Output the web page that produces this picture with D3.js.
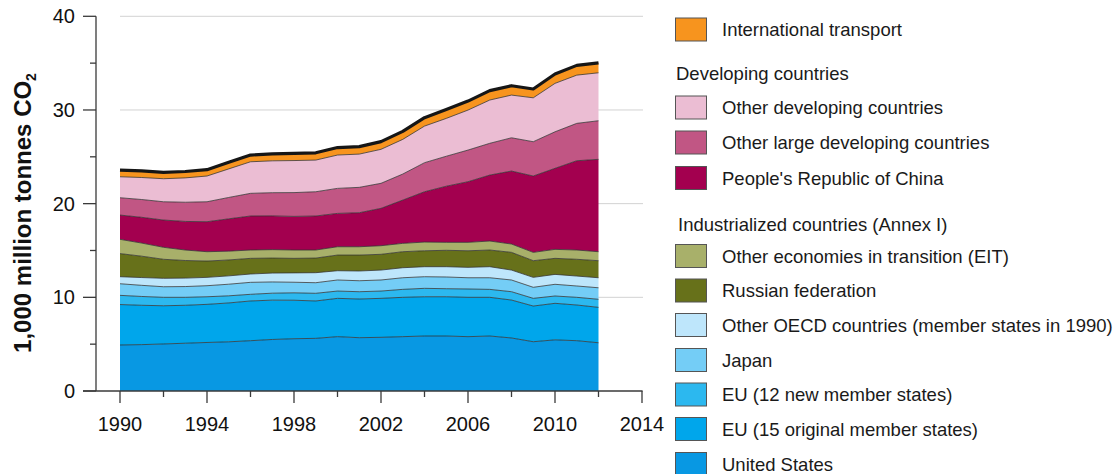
<!DOCTYPE html>
<html><head><meta charset="utf-8">
<script src="https://cdn.jsdelivr.net/npm/d3@7"></script>
<style>body{margin:0;background:#fff}svg{display:block;font-family:"Liberation Sans",Arial,sans-serif}</style>
</head><body>
<svg id="c" width="1117" height="474"></svg>
<script>
const years = [1990,1991,1992,1993,1994,1995,1996,1997,1998,1999,2000,2001,2002,2003,2004,2005,2006,2007,2008,2009,2010,2011,2012];
const unitedStates = [4.91,4.95,5.02,5.10,5.18,5.25,5.37,5.50,5.58,5.62,5.80,5.69,5.73,5.80,5.87,5.87,5.80,5.87,5.66,5.26,5.46,5.37,5.15];
const eu15 = [4.32,4.20,4.08,4.05,4.07,4.15,4.24,4.20,4.11,3.99,4.09,4.13,4.16,4.20,4.19,4.19,4.20,4.13,4.05,3.81,3.90,3.81,3.78];
const eu12 = [0.98,0.94,0.90,0.85,0.81,0.76,0.71,0.74,0.79,0.82,0.78,0.78,0.78,0.85,0.90,0.86,0.89,0.85,0.89,0.82,0.78,0.82,0.86];
const japan = [1.24,1.19,1.13,1.15,1.18,1.24,1.28,1.20,1.13,1.13,1.18,1.17,1.18,1.24,1.24,1.25,1.20,1.24,1.25,1.18,1.25,1.21,1.23];
const otherOECD = [0.75,0.83,0.90,0.90,0.89,0.89,0.89,0.95,1.00,1.07,0.99,1.04,1.06,1.07,1.07,1.10,1.11,1.18,1.06,1.06,1.06,1.06,1.07];
const russia = [2.47,2.28,2.03,1.88,1.74,1.70,1.67,1.60,1.55,1.56,1.67,1.70,1.68,1.71,1.70,1.75,1.77,1.78,1.89,1.78,1.71,1.79,1.82];
const otherEIT = [1.52,1.40,1.28,1.12,1.00,0.94,0.89,0.90,0.89,0.86,0.89,0.89,0.92,0.89,0.93,0.85,0.90,0.96,0.89,0.89,0.96,0.99,0.96];
const china = [2.59,2.75,2.91,3.05,3.20,3.45,3.63,3.60,3.59,3.63,3.56,3.63,3.99,4.62,5.37,5.99,6.47,7.04,7.79,8.15,8.65,9.53,9.86];
const otherLarge = [1.85,1.90,1.95,2.05,2.13,2.28,2.42,2.48,2.54,2.59,2.67,2.71,2.67,2.78,3.10,3.20,3.38,3.39,3.55,3.66,3.90,3.99,4.12];
const otherDeveloping = [2.24,2.35,2.46,2.60,2.75,3.05,3.37,3.40,3.42,3.38,3.56,3.55,3.63,3.70,3.91,4.04,4.27,4.62,4.56,4.69,5.17,5.15,5.12];
const intlTransport = [0.70,0.70,0.68,0.68,0.68,0.70,0.72,0.74,0.76,0.78,0.80,0.80,0.82,0.86,0.90,0.94,0.96,1.00,1.00,0.94,1.00,1.04,1.06];

const seriesKeys = ["us","eu15","eu12","japan","oecd","russia","eit","china","large","otherdev","intl"];
const seriesValues = [unitedStates,eu15,eu12,japan,otherOECD,russia,otherEIT,china,otherLarge,otherDeveloping,intlTransport];
const seriesColors = ["#0898e3","#00a6eb","#2cb8ef","#74cdf6","#bee6fb","#67711a","#a8b06a","#a3004f","#c15684","#ebbdd3","#f7941e"];

const xTicks = [1990,1992,1994,1996,1998,2000,2002,2004,2006,2008,2010,2012,2014];
const xLabels = [1990,1994,1998,2002,2006,2010,2014];
const yTicks = [0,5,10,15,20,25,30,35,40];
const yLabels = [0,10,20,30,40];

const legendItems = [
  {type:"swatch", key:"intl", label:"International transport"},
  {type:"head", label:"Developing countries"},
  {type:"swatch", key:"otherdev", label:"Other developing countries"},
  {type:"swatch", key:"large", label:"Other large developing countries"},
  {type:"swatch", key:"china", label:"People's Republic of China"},
  {type:"head", label:"Industrialized countries (Annex I)"},
  {type:"swatch", key:"eit", label:"Other economies in transition (EIT)"},
  {type:"swatch", key:"russia", label:"Russian federation"},
  {type:"swatch", key:"oecd", label:"Other OECD countries (member states in 1990)"},
  {type:"swatch", key:"japan", label:"Japan"},
  {type:"swatch", key:"eu12", label:"EU (12 new member states)"},
  {type:"swatch", key:"eu15", label:"EU (15 original member states)"},
  {type:"swatch", key:"us", label:"United States"}
];
const legendY = [29.5,73,107.5,142.5,178,224,256,290.5,325,360,394.5,429,464];

const svg = d3.select("#c");
const x = d3.scaleLinear().domain([1990,2014]).range([120,642]);
const y = d3.scaleLinear().domain([0,40]).range([391,16.3]);
const color = d3.scaleOrdinal().domain(seriesKeys).range(seriesColors);

const table = years.map((yr,i)=>{const o={year:yr}; seriesKeys.forEach((k,j)=>o[k]=seriesValues[j][i]); return o;});
const stacked = d3.stack().keys(seriesKeys)(table);

// gridlines
svg.append("g").selectAll("line").data(yLabels.filter(v=>v>0)).join("line")
  .attr("x1",x(1990)).attr("x2",x(2014)+1).attr("y1",d=>y(d)).attr("y2",d=>y(d))
  .attr("stroke","#d2d2d2").attr("stroke-width",1);

const area = d3.area().x(d=>x(d.data.year)).y0(d=>y(d[0])).y1(d=>y(d[1]));
const topLine = d3.line().x(d=>x(d.data.year)).y(d=>y(d[1]));

svg.append("g").selectAll("path").data(stacked).join("path")
  .attr("d",area).attr("fill",d=>color(d.key));
svg.append("g").selectAll("path").data(stacked.slice(0,-1)).join("path")
  .attr("d",topLine).attr("fill","none").attr("stroke","#2f2f2f").attr("stroke-width",0.9).attr("stroke-opacity",0.85);
svg.append("path").datum(stacked[stacked.length-1]).attr("d",topLine)
  .attr("fill","none").attr("stroke","#161616").attr("stroke-width",3.2).attr("stroke-linejoin","round");

// axes
const axC = "#3a3a3a";
svg.append("line").attr("x1",96).attr("x2",96).attr("y1",y(40)).attr("y2",y(0)).attr("stroke",axC).attr("stroke-width",1.3);
svg.append("line").attr("x1",83).attr("x2",x(2014)+0.6).attr("y1",y(0)).attr("y2",y(0)).attr("stroke",axC).attr("stroke-width",1.3);
svg.append("g").selectAll("line").data(yTicks).join("line")
  .attr("x1",d=>yLabels.includes(d)?83:90).attr("x2",96).attr("y1",d=>y(d)).attr("y2",d=>y(d))
  .attr("stroke",axC).attr("stroke-width",1.3);
svg.append("g").selectAll("line").data(xTicks).join("line")
  .attr("x1",d=>x(d)).attr("x2",d=>x(d)).attr("y1",y(0)).attr("y2",d=>xLabels.includes(d)?403:397)
  .attr("stroke",axC).attr("stroke-width",1.3);
svg.append("g").selectAll("text").data(yLabels).join("text")
  .attr("x",75).attr("y",d=>y(d)+7).attr("text-anchor","end").attr("font-size",20).attr("fill","#111").text(d=>d);
svg.append("g").selectAll("text").data(xLabels).join("text")
  .attr("x",d=>x(d)).attr("y",430.5).attr("text-anchor","middle").attr("font-size",20).attr("fill","#111").text(d=>d);

const title = svg.append("text").attr("transform","translate(31,213) rotate(-90)")
  .attr("text-anchor","middle").attr("font-size",24).attr("font-weight","bold").attr("fill","#111");
title.append("tspan").text("1,000 million tonnes CO");
title.append("tspan").attr("font-size",14).attr("dy",5).text("2");

// legend
const lg = svg.append("g");
legendItems.forEach((it,i)=>{
  const cy = legendY[i];
  if(it.type==="swatch"){
    lg.append("rect").attr("x",675.5).attr("y",cy-11.5).attr("width",31).attr("height",23)
      .attr("fill",color(it.key)).attr("stroke","#555").attr("stroke-width",1);
    lg.append("text").attr("x",722).attr("y",cy+6.5).attr("font-size",18.5).attr("fill","#1a1a1a").text(it.label);
  } else {
    lg.append("text").attr("x",i===1?676:678).attr("y",cy+6.5).attr("font-size",18.5).attr("fill","#1a1a1a").text(it.label);
  }
});
</script>
</body></html>
